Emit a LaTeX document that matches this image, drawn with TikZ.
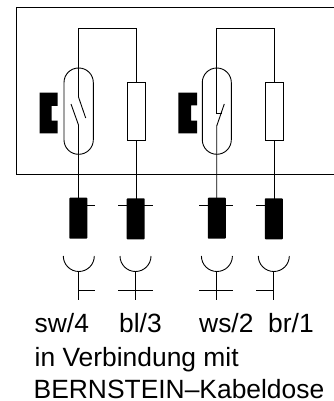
\documentclass[tikz,border=0pt]{standalone}
\usepackage{fontspec}
\setmainfont{Liberation Sans}
\tikzset{
  wire/.style={line width=0.9pt},
  plug/.style={fill=black,rounded corners=0.8pt,inner sep=0pt,minimum width=18pt,minimum height=41pt},
  txt/.style={anchor=base west,inner sep=0pt,font=\fontsize{26.4}{26.4}\selectfont},
}
\begin{document}
\begin{tikzpicture}[x=1pt,y=-1pt]
\useasboundingbox (0,0) rectangle (334,401);
\draw [wire] (334,7.3) -- (16.7,7.3) -- (16.7,174.5) -- (334,174.5);
\coordinate (ta) at (78.5,28);
\coordinate (tb) at (136,28);
\coordinate (tc) at (216.7,28);
\coordinate (td) at (274.3,28);
\draw [wire] (78.5,97) -- (ta) -- (tb) -- (136,82);
\draw [wire] (221.5,113) -- (216.7,113) -- (tc) -- (td) -- (274.3,82);
\draw [wire,rounded corners=14.5pt] (64,68) rectangle (93.3,154.3);
\draw [wire,rounded corners=14.5pt] (202.3,68) rectangle (231.3,154.3);
\draw [wire] (71,104) -- (78.5,125) -- (78.5,198);
\draw [wire] (78.5,97) -- (85.7,118);
\draw [wire] (224.3,104) -- (216.7,126) -- (216.7,198);
\draw [wire] (127.3,82) rectangle (145.7,140);
\draw [wire] (265.7,82) rectangle (283.7,140);
\draw [wire] (136,140) -- (136,199);
\draw [wire] (274.3,140) -- (274.3,199);
\fill (39.7,92.7) -- (57.7,92.7) -- (57.7,106) -- (51.7,106) -- (51.7,120.7) -- (57.7,120.7) -- (57.7,133.3) -- (39.7,133.3) -- cycle;
\fill (178.3,92.7) -- (197,92.7) -- (197,105.5) -- (191,105.5) -- (191,120.7) -- (197,120.7) -- (197,133.3) -- (178.3,133.3) -- cycle;
\node [plug] (pa) at (78.3,218.2) {};
\node [plug] (pb) at (135.7,218.8) {};
\node [plug] (pc) at (216.8,218.2) {};
\node [plug] (pd) at (273.8,218.8) {};
\draw [wire] (78.3,205.7) -- (95.3,205.7);
\draw [wire] (118,205.7) -- (152.7,205.7);
\draw [wire] (199,205.7) -- (233,205.7);
\draw [wire] (256,205.7) -- (273.8,205.7);
\foreach \cx/\l/\r in {78.8/78/95,135.5/118/152.7,216.9/199/233,273.8/256/273.8} {
  \draw [wire] (\cx-15.5,256) arc [start angle=180,end angle=0,radius=15.5];
  \draw [wire] (\cx,271.5) -- (\cx,300);
  \draw [wire] (\l,290.5) -- (\r,290.5);
}
\node [txt] (sw) at (34.5,332) {sw/4};
\node [txt] (bl) at (119,332) {bl/3};
\node [txt] (ws) at (199,332) {ws/2};
\node [txt] (br) at (268,332) {br/1};
\node [txt] (vb) at (34.5,366) {in Verbindung mit};
\node [txt] (kd) at (33.5,398) {BERNSTEIN--Kabeldose};
\end{tikzpicture}
\end{document}
